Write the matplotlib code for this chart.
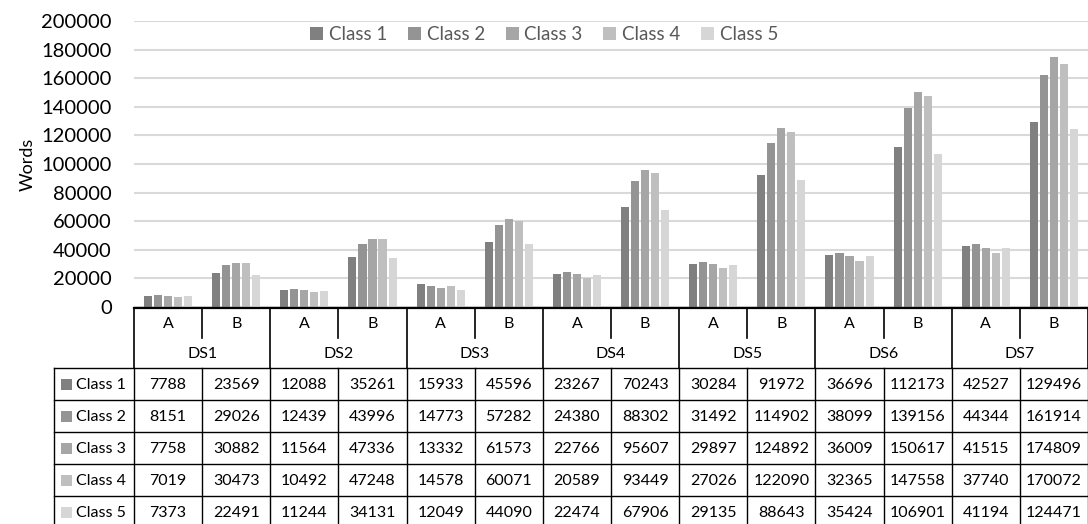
import numpy as np
import matplotlib.pyplot as plt

plt.rcParams['font.family'] = ['Lato', 'DejaVu Sans']

datasets = ['DS1', 'DS2', 'DS3', 'DS4', 'DS5', 'DS6', 'DS7']
subsets = ['A', 'B']
classes = ['Class 1', 'Class 2', 'Class 3', 'Class 4', 'Class 5']

class1 = [7788, 23569, 12088, 35261, 15933, 45596, 23267, 70243, 30284, 91972, 36696, 112173, 42527, 129496]
class2 = [8151, 29026, 12439, 43996, 14773, 57282, 24380, 88302, 31492, 114902, 38099, 139156, 44344, 161914]
class3 = [7758, 30882, 11564, 47336, 13332, 61573, 22766, 95607, 29897, 124892, 36009, 150617, 41515, 174809]
class4 = [7019, 30473, 10492, 47248, 14578, 60071, 20589, 93449, 27026, 122090, 32365, 147558, 37740, 170072]
class5 = [7373, 22491, 11244, 34131, 12049, 44090, 22474, 67906, 29135, 88643, 35424, 106901, 41194, 124471]
series = [class1, class2, class3, class4, class5]

colors = ['#808080', '#949494', '#a6a6a6', '#bfbfbf', '#d6d6d6']

W, H = 1088, 524
fig = plt.figure(figsize=(W / 100, H / 100), dpi=100)

# plot area in pixels
x0, x1 = 134, 1088
y_top, y_zero = 21, 307
ax = fig.add_axes([x0 / W, 1 - y_zero / H, (x1 - x0) / W, (y_zero - y_top) / H])

ncol = len(class1)
pos = np.arange(ncol) + 0.5
step = 0.147
for k, vals in enumerate(series):
    ax.bar(pos + (k - 2) * step, vals, width=0.118, color=colors[k], label=classes[k], zorder=3)

ax.set_xlim(0, ncol)
ax.set_ylim(0, 200000)
ax.set_yticks(np.arange(0, 200001, 20000))
ax.tick_params(axis='y', length=0, labelsize=14.5, pad=16)
ax.set_xticks([])
ax.grid(axis='y', color='#d9d9d9', linewidth=1.5, zorder=0)
for s in ax.spines.values():
    s.set_visible(False)
ax.set_ylabel('Words', fontsize=13, labelpad=4)

leg = ax.legend(loc='upper center', bbox_to_anchor=(0.43, 1.0), ncol=5, frameon=True,
                fontsize=13.5, handlelength=0.7, handleheight=0.7, handletextpad=0.3,
                columnspacing=1.1, borderaxespad=0.05, borderpad=0.2)
leg.get_frame().set_edgecolor('none')
leg.get_frame().set_facecolor('white')
leg.get_frame().set_alpha(1)
for t in leg.get_texts():
    t.set_color('#595959')

# data table drawn in pixel coordinates
tab = fig.add_axes([0, 0, 1, 1], zorder=5)
tab.set_xlim(0, W)
tab.set_ylim(H, 0)
tab.axis('off')
tab.patch.set_alpha(0)

cw = (x1 - x0) / ncol
r_ab, r_ds, r_cls = 308, 338, 368
rh = 32
lc = '#000000'
fs = 11.5

# header: axis line, A/B row, dataset row
tab.plot([x0, x1], [r_ab, r_ab], color=lc, lw=1.6)
for i in range(ncol + 1):
    xx = x0 + i * cw
    if i % 2 == 0:
        tab.plot([xx, xx], [r_ab, r_cls], color=lc, lw=1.2)
    else:
        tab.plot([xx, xx], [r_ab, r_ds], color=lc, lw=1.2)
for i in range(ncol):
    tab.text(x0 + (i + 0.5) * cw, (r_ab + r_ds) / 2 + 1, subsets[i % 2],
             ha='center', va='center', fontsize=fs)
for j, ds in enumerate(datasets):
    tab.text(x0 + (2 * j + 1) * cw, (r_ds + r_cls) / 2 + 1, ds,
             ha='center', va='center', fontsize=fs)

# class rows
tx0 = 54
for r in range(len(classes) + 1):
    yy = r_cls + r * rh
    if yy <= H:
        tab.plot([tx0, x1], [yy, yy], color=lc, lw=1.0)
tab.plot([tx0, tx0], [r_cls, H], color=lc, lw=1.0)
for i in range(ncol + 1):
    xx = x0 + i * cw
    tab.plot([xx, xx], [r_cls, H], color=lc, lw=1.0)

for r, vals in enumerate(series):
    yc = r_cls + (r + 0.5) * rh
    tab.add_patch(plt.Rectangle((61, yc - 5.5), 11, 11, color=colors[r], lw=0))
    tab.text(76, yc + 1, classes[r], ha='left', va='center', fontsize=fs)
    for i, v in enumerate(vals):
        tab.text(x0 + (i + 0.5) * cw, yc + 1, str(v), ha='center', va='center', fontsize=fs)

fig.savefig('out.png', dpi=100)
